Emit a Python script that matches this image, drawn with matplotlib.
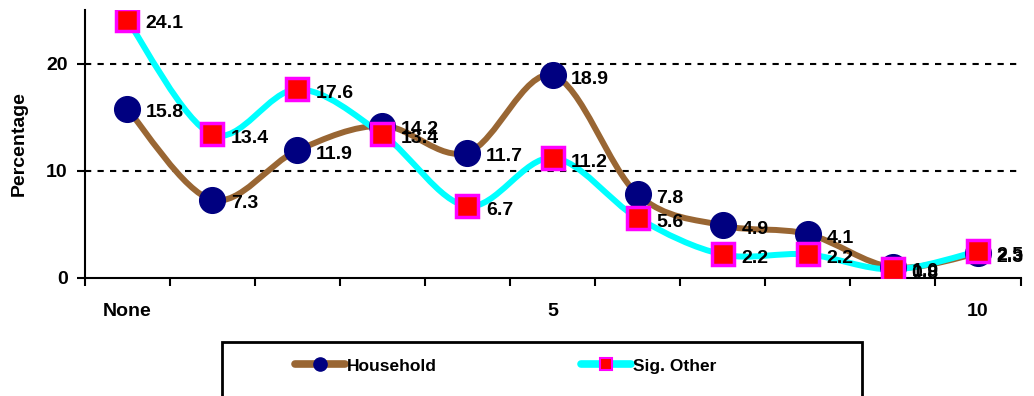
import matplotlib
matplotlib.use("Agg")
import matplotlib.pyplot as plt
from matplotlib.path import Path
from matplotlib.patches import PathPatch, Rectangle
from matplotlib.lines import Line2D
import numpy as np

plt.rcParams["font.family"] = ["Liberation Sans", "DejaVu Sans"]
plt.rcParams["font.weight"] = "bold"

# Number of items, 0 ("None") through 10
categories = ["None", "1", "2", "3", "4", "5", "6", "7", "8", "9", "10"]
household = [15.8, 7.3, 11.9, 14.2, 11.7, 18.9, 7.8, 4.9, 4.1, 1.0, 2.3]
sig_other = [24.1, 13.4, 17.6, 13.4, 6.7, 11.2, 5.6, 2.2, 2.2, 0.8, 2.5]
shown_ticks = {0: "None", 5: "5", 10: "10"}
yticks = [0, 10, 20]

BROWN = "#996633"
NAVY = "#000080"
CYAN = "#00FFFF"
RED = "#FF0000"
MAGENTA = "#FF00FF"


def smooth_path(x, y):
    """Catmull-Rom style Bezier path through every point."""
    pts = np.column_stack([x, y]).astype(float)
    n = len(pts)
    verts = [pts[0]]
    codes = [Path.MOVETO]
    for i in range(n - 1):
        p0 = pts[i - 1] if i > 0 else pts[i]
        p1 = pts[i]
        p2 = pts[i + 1]
        p3 = pts[i + 2] if i + 2 < n else pts[i + 1]
        c1 = p1 + (p2 - p0) / 6.0
        c2 = p2 - (p3 - p1) / 6.0
        verts += [c1, c2, p2]
        codes += [Path.CURVE4] * 3
    return Path(verts, codes)


fig = plt.figure(figsize=(10.34, 3.96), dpi=100)
ax = fig.add_axes([84.5 / 1034, 1 - 278 / 396, 936 / 1034, 268 / 396])

x = np.arange(len(categories))

series = [
    (household, BROWN, dict(marker="o", color=NAVY, mec=NAVY, ms=18.5)),
    (sig_other, CYAN, dict(marker="s", color=RED, mec=MAGENTA, mew=2.5, ms=16.5)),
]
for vals, lc, mk in series:
    ax.add_patch(PathPatch(smooth_path(x, vals), fill=False, edgecolor=lc,
                           lw=4.3, capstyle="round", joinstyle="round", zorder=2))
    ax.plot(x, vals, ls="none", zorder=3, **mk)

for vals in (household, sig_other):
    for xi, v in zip(x, vals):
        ax.annotate(f"{v:.1f}", (xi, v), xytext=(13.5, -3), textcoords="offset points",
                    ha="left", va="center", fontsize=14, fontweight="bold",
                    zorder=4, annotation_clip=False)

ax.set_xlim(-0.5, 10.5)
ax.set_ylim(0, 25)

ax.set_xticks(np.arange(-0.5, 11, 1.0))
ax.set_xticklabels([])
ax.set_xticks(list(shown_ticks.keys()), minor=True)
ax.set_xticklabels(list(shown_ticks.values()), minor=True, fontsize=14, fontweight="bold")
ax.tick_params(axis="x", which="major", direction="out", length=5.5, width=1.5)
ax.tick_params(axis="x", which="minor", length=0, pad=18)

ax.set_yticks(yticks)
ax.set_yticklabels([str(t) for t in yticks], fontsize=14, fontweight="bold")
ax.tick_params(axis="y", direction="out", length=5.5, width=1.5, pad=6.5)

for y in yticks[1:]:
    ax.axhline(y, color="black", lw=1.5, ls=(0, (3, 3)), zorder=1)

for s in ("top", "right"):
    ax.spines[s].set_visible(False)
for s in ("left", "bottom"):
    ax.spines[s].set_linewidth(1.5)

ax.set_ylabel("Percentage", fontsize=14, fontweight="bold")
ax.yaxis.set_label_coords((28 - 84.5) / 936, 0.5)

# Legend box
fig.patches.append(Rectangle((222 / 1034, -0.02), 640 / 1034, (396 - 342) / 396 + 0.02,
                             transform=fig.transFigure, fill=False,
                             edgecolor="black", lw=2, zorder=5))
handles = [
    Line2D([], [], color=BROWN, lw=5.5, solid_capstyle="round",
           marker="o", mfc=NAVY, mec=NAVY, ms=9.5),
    Line2D([], [], color=CYAN, lw=5.5, solid_capstyle="round",
           marker="s", mfc=RED, mec=MAGENTA, mew=1.5, ms=8.5),
]
fig.legend(handles, ["Household", "Sig. Other"], loc="center left",
           bbox_to_anchor=(295 / 1034, 1 - 366 / 396), ncol=2, frameon=False,
           prop={"weight": "bold", "size": 12.5},
           handlelength=2.9, handletextpad=0.1, columnspacing=8.3,
           borderpad=0, borderaxespad=0)

fig.savefig("out.png", dpi=100)
